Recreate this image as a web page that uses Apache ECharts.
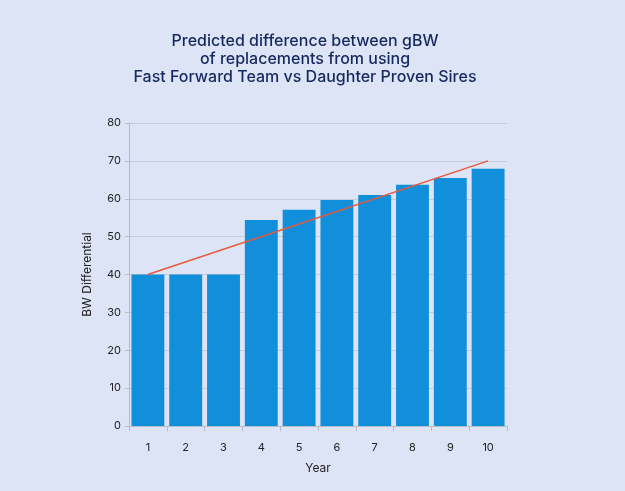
<!DOCTYPE html>
<html><head><meta charset="utf-8">
<script src="https://cdn.jsdelivr.net/npm/echarts@6/dist/echarts.min.js"></script>
<style>html,body{margin:0;padding:0;background:#dde4f5;}#c{width:625px;height:491px;}</style>
</head><body><div id="c"></div>
<script>
const titleText = "Predicted difference between gBW\nof replacements from using\nFast Forward Team vs Daughter Proven Sires";
const years = ["1","2","3","4","5","6","7","8","9","10"];
const bwDiff = [40, 40, 40, 54.4, 57.1, 59.7, 61, 63.7, 65.5, 67.9];
const trend = [40, null, null, null, null, null, null, null, null, 70];
const yTicks = [0, 10, 20, 30, 40, 50, 60, 70, 80];
const font = "Inter, 'Noto Sans', sans-serif";
const chart = echarts.init(document.getElementById('c'), null, {renderer:'canvas'});
chart.setOption({
  backgroundColor: '#dde4f5',
  animation: false,
  title: {
    text: titleText, left: 300, top: 27, textAlign: 'center',
    textStyle: {color:'#16295f', fontSize:16, fontWeight:500, lineHeight:18, fontFamily: font}
  },
  grid: {left:129, right:118, top:123, bottom:65, containLabel:false},
  xAxis: {
    type:'category', data: years, name:'Year', nameLocation:'middle', nameGap:36,
    nameTextStyle:{color:'#222', fontSize:12, fontFamily:font},
    axisLine:{lineStyle:{color:'#b8bcc6'}},
    axisTick:{show:true, lineStyle:{color:'#b8bcc6'}, length:5},
    axisLabel:{color:'#222', fontSize:11, margin:16, fontFamily:font}
  },
  yAxis: {
    type:'value', min: yTicks[0], max: yTicks[yTicks.length-1], interval: 10,
    name:'BW Differential', nameLocation:'middle', nameGap:36, nameRotate:90,
    nameTextStyle:{color:'#222', fontSize:12, fontFamily:font},
    axisLine:{show:true, lineStyle:{color:'#b8bcc6'}},
    axisTick:{show:true, length:4, lineStyle:{color:'#b8bcc6'}},
    axisLabel:{color:'#222', fontSize:11, margin:8, fontFamily:font},
    splitLine:{lineStyle:{color:'#c9ccd6'}}
  },
  series: [
    {type:'bar', data: bwDiff, barCategoryGap:'13%', itemStyle:{color:'#128fda'}},
    {type:'line', data: trend, connectNulls:true, symbol:'none', lineStyle:{color:'#e8583a', width:1.5}, z:5}
  ]
});
</script></body></html>
